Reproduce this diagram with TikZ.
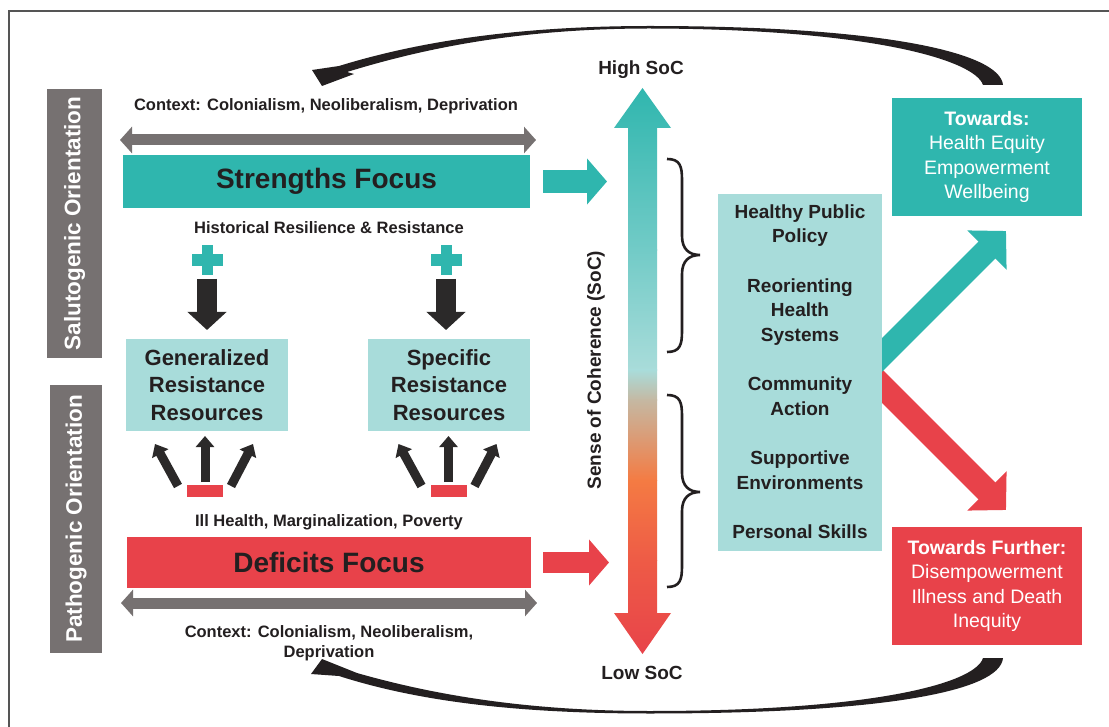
\documentclass[tikz,border=0pt]{standalone}
\usepackage{fontspec}
\setmainfont{Liberation Sans}
\usetikzlibrary{arrows.meta}
\definecolor{tealc}{HTML}{2FB6AE}
\definecolor{lteal}{HTML}{A8DCDA}
\definecolor{redc}{HTML}{E8424A}
\definecolor{grayc}{HTML}{767171}
\definecolor{darkc}{HTML}{231F20}
\definecolor{blkc}{HTML}{2B2929}
\definecolor{framec}{HTML}{555555}
\definecolor{g1}{HTML}{72CBC7}
\definecolor{g2}{HTML}{A9DCDA}
\definecolor{g3}{HTML}{C5B8A2}
\definecolor{g4}{HTML}{F47B43}
\definecolor{g5}{HTML}{EE5B46}
\definecolor{g6}{HTML}{E8434A}
\tikzset{
  ctx/.style={font=\bfseries\fontsize{16.5}{20}\selectfont, text=darkc, align=center, inner sep=0pt},
  focusbox/.style={fill=#1, inner sep=0pt, font=\bfseries\fontsize{28}{32}\selectfont, text=darkc},
  rrbox/.style={fill=lteal, minimum width=162pt, minimum height=92pt, inner sep=0pt, align=center,
    font=\bfseries\fontsize{22}{27.5}\selectfont, text=darkc},
  orient/.style={fill=grayc, rotate=90, inner sep=0pt, text=white, font=\bfseries\fontsize{22.5}{26}\selectfont},
  acttxt/.style={font=\bfseries\fontsize{19}{24.5}\selectfont, text=darkc, align=center, inner sep=0pt},
  outbox/.style={fill=#1, minimum width=190pt, minimum height=118pt, inner sep=0pt, align=center,
    text=white, font=\fontsize{19.5}{24.5}\selectfont},
  soclbl/.style={font=\bfseries\fontsize{19}{22}\selectfont, text=darkc, inner sep=0pt},
  dblarrow/.style={draw=grayc, line width=11pt, arrows={Triangle[length=12pt,width=26pt]-Triangle[length=12pt,width=26pt]}},
  hblock/.style={draw=#1, line width=23pt, arrows={-Triangle[length=20pt,width=45pt]}},
  diagblock/.style={draw=#1, line width=24pt, arrows={-Triangle[length=27pt,width=54pt]}},
  downblk/.style={draw=blkc, line width=19.5pt, arrows={-Triangle[length=18pt,width=38pt]}},
  smallblk/.style={draw=blkc, line width=9pt, arrows={-Triangle[length=11pt,width=18pt]}},
  bracec/.style={draw=darkc, line width=2.6pt},
}
\begin{document}
\begin{tikzpicture}[x=1pt,y=-1pt]
\useasboundingbox (0,0) rectangle (1109,727);
\fill[white] (0,0) rectangle (1109,727);
% frame
\draw[framec, line width=1.3pt] (9,727) -- (9,11) -- (1109,11);

% orientation bars
\node[orient, minimum width=269pt, minimum height=55pt] (sal) at (74.5,223.5) {Salutogenic Orientation};
\node[orient, minimum width=268pt, minimum height=52pt] (pat) at (76,519) {Pathogenic Orientation};

% top texts and focus boxes
\node[ctx] (ctxtop) at (326,106) {Context: Colonialism, Neoliberalism, Deprivation};
\coordinate (dt1) at (120,140);
\coordinate (dt2) at (536,140);
\draw[dblarrow] (dt1) -- (dt2);
\node[focusbox=tealc, minimum width=407pt, minimum height=53pt] (str) at (326.5,181.5) {Strengths Focus};
\node[ctx] (hist) at (329,228) {Historical Resilience \& Resistance};

\node[ctx] (ill) at (329,522) {Ill Health, Marginalization, Poverty};
\node[focusbox=redc, minimum width=404pt, minimum height=51pt] (def) at (329,562.5) {Deficits Focus};
\coordinate (db1) at (121,603);
\coordinate (db2) at (537,603);
\draw[dblarrow] (db1) -- (db2);
\node[ctx] (ctxbot) at (329,643) {Context: Colonialism, Neoliberalism,\\Deprivation};

% resistance resources
\node[rrbox] (gen) at (207,385) {Generalized\\Resistance\\Resources};
\node[rrbox] (spe) at (449,385) {Specific\\Resistance\\Resources};

% plus signs
\fill[tealc] (201.5,245) rectangle (212.5,275);
\fill[tealc] (192,254) rectangle (223,266);
\fill[tealc] (440.5,245) rectangle (451.5,275);
\fill[tealc] (431,254) rectangle (462,266);
\coordinate (p1) at (207,279);
\coordinate (p1t) at (207,330);
\coordinate (p2) at (446,279);
\coordinate (p2t) at (446,330);
\draw[downblk] (p1) -- (p1t);
\draw[downblk] (p2) -- (p2t);

% minus signs and small arrows
\fill[redc] (187,485) rectangle (223,497);
\fill[redc] (430.5,485) rectangle (466.5,497);
\coordinate (m1c) at (205,482);   \coordinate (m1ct) at (205,436);
\coordinate (m1l) at (178,486);   \coordinate (m1lt) at (155,444);
\coordinate (m1r) at (231,486);   \coordinate (m1rt) at (253,444);
\coordinate (m2c) at (448.5,482); \coordinate (m2ct) at (448.5,436);
\coordinate (m2l) at (421.5,486); \coordinate (m2lt) at (398.5,444);
\coordinate (m2r) at (474.5,486); \coordinate (m2rt) at (496.5,444);
\draw[smallblk] (m1c) -- (m1ct);
\draw[smallblk] (m1l) -- (m1lt);
\draw[smallblk] (m1r) -- (m1rt);
\draw[smallblk] (m2c) -- (m2ct);
\draw[smallblk] (m2l) -- (m2lt);
\draw[smallblk] (m2r) -- (m2rt);

% horizontal block arrows to SoC
\coordinate (ha1) at (543,181.5);
\coordinate (ha1t) at (607,181.5);
\draw[hblock=tealc] (ha1) -- (ha1t);
\coordinate (ha2) at (543,562.5);
\coordinate (ha2t) at (609,562.5);
\draw[hblock=redc, line width=21pt] (ha2) -- (ha2t);

% SoC gradient arrow
\begin{scope}
\clip (642.5,88) -- (671,128) -- (657,128) -- (657,613) -- (671,613) -- (642.5,654)
      -- (614,613) -- (628,613) -- (628,128) -- (614,128) -- cycle;
\shade[top color=tealc, bottom color=g1] (610,86) rectangle (675,250.5);
\shade[top color=g1, bottom color=g2] (610,250) rectangle (675,370.5);
\shade[top color=g2, bottom color=g3] (610,370) rectangle (675,400.5);
\shade[top color=g3, bottom color=g4] (610,400) rectangle (675,480.5);
\shade[top color=g4, bottom color=g5] (610,480) rectangle (675,560.5);
\shade[top color=g5, bottom color=g6] (610,560) rectangle (675,656);
\end{scope}
\node[soclbl] (high) at (641,70) {High SoC};
\node[soclbl] (low) at (642,673) {Low SoC};
\node[soclbl, rotate=90] (soc) at (596,370) {Sense of Coherence (SoC)};

% braces
\draw[bracec] (667,159) .. controls (680,159) and (682,166) .. (682,180) -- (682,236)
  .. controls (682,249) and (689,255) .. (700,255) .. controls (689,255) and (682,261) .. (682,274)
  -- (682,331) .. controls (682,345) and (680,352) .. (667,352);
\draw[bracec] (667,395) .. controls (680,395) and (682,402) .. (682,416) -- (682,473)
  .. controls (682,486) and (689,492) .. (700,492) .. controls (689,492) and (682,498) .. (682,511)
  -- (682,566) .. controls (682,580) and (680,587) .. (667,587);

% diagonal arrows (drawn before the action box)
\coordinate (dg1) at (860,377);
\coordinate (dg1t) at (1006,231);
\coordinate (dg2) at (860,364);
\coordinate (dg2t) at (1006,510);
\draw[diagblock=redc] (dg2) -- (dg2t);
\draw[diagblock=tealc] (dg1) -- (dg1t);

% action box
\node[fill=lteal, minimum width=164pt, minimum height=357pt, inner sep=0pt] (act) at (800,372.5) {};
\node[acttxt] (hpp) at (800,225.5) {Healthy Public\\Policy};
\node[acttxt] (rhs) at (800,312) {Reorienting\\Health\\Systems};
\node[acttxt] (ca) at (800,396) {Community\\Action};
\node[acttxt] (se) at (800,470) {Supportive\\Environments};
\node[acttxt] (ps) at (800,532) {Personal Skills};

% outcome boxes
\node[outbox=tealc] (tow) at (987,157) {\textbf{Towards:}\\Health Equity\\Empowerment\\Wellbeing};
\node[outbox=redc] (towf) at (987,586) {\textbf{Towards Further:}\\Disempowerment\\Illness and Death\\Inequity};

% feedback swooshes
\fill[darkc] (1003,85) -- (983,85) .. controls (975,60) and (870,29) .. (650,28.5)
  .. controls (520,28.5) and (425,48) .. (347,72) -- (354,74) -- (322,86) -- (312,70) -- (339,66)
  .. controls (420,41) and (520,26) .. (650,26) .. controls (880,26) and (1000,52) .. (1003,85) -- cycle;
\fill[darkc] (1003,658) -- (983,658) .. controls (975,684) and (870,711) .. (650,711)
  .. controls (520,711) and (425,693) .. (350,671) -- (357,673) -- (322,659) -- (311,674) -- (339,676)
  .. controls (420,702) and (520,713.5) .. (650,713.5) .. controls (880,713.5) and (1000,692) .. (1003,658) -- cycle;
\end{tikzpicture}
\end{document}
